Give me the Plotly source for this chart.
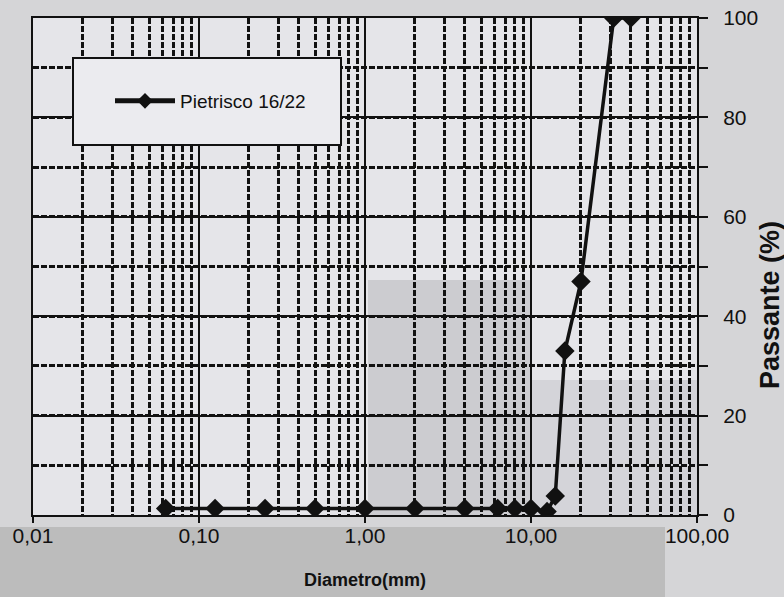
import plotly.graph_objects as go

# Grading curve: sieve opening (mm) vs cumulative passing (%)
diametro_mm = [0.063, 0.125, 0.25, 0.5, 1, 2, 4, 6.3, 8, 10, 12.5, 14, 16, 20, 31.5, 40]
passante_pct = [1.3, 1.3, 1.3, 1.3, 1.3, 1.3, 1.3, 1.3, 1.3, 1.3, 0.7, 3.8, 33, 47, 100, 100]
serie_nome = "Pietrisco 16/22"

x_tick_vals = [0.01, 0.1, 1, 10, 100]
x_tick_text = ["0,01", "0,10", "1,00", "10,00", "100,00"]
x_minor_vals = [m * d for d in (0.01, 0.1, 1, 10) for m in range(2, 10)]
y_tick_vals = [0, 20, 40, 60, 80, 100]

FONT = "Liberation Sans, Arial, sans-serif"
INK = "#111111"

# plot-area geometry in pixels
L, R, T, B = 33, 697, 18, 515
W, H = R - L, B - T


def px_x(px):
    return (px - L) / W


def px_y(py):
    return (B - py) / H


fig = go.Figure()
fig.add_trace(go.Scatter(
    x=diametro_mm, y=passante_pct, name=serie_nome,
    mode="lines+markers",
    line=dict(color=INK, width=3.5),
    marker=dict(symbol="diamond", size=15, color=INK),
))

fig.update_layout(
    width=784, height=597,
    margin=dict(l=L, r=784 - R, t=T, b=597 - B, autoexpand=False),
    paper_bgcolor="#d5d5d7",
    plot_bgcolor="#e5e5e9",
    font=dict(family=FONT, color=INK, size=21),
    showlegend=True,
    legend=dict(
        x=px_x(110), y=px_y(101), xanchor="left", yanchor="middle",
        bgcolor="rgba(0,0,0,0)", borderwidth=0,
        font=dict(size=19, family=FONT, color=INK),
        itemsizing="constant", itemwidth=60,
    ),
    xaxis=dict(
        type="log", range=[-2, 2], automargin=False,
        tickmode="array", tickvals=x_tick_vals, ticktext=x_tick_text,
        ticks="outside", ticklen=6, tickwidth=2, tickcolor=INK,
        ticklabelstandoff=-5,
        showgrid=True, gridcolor=INK, gridwidth=2,
        minor=dict(tickmode="array", tickvals=x_minor_vals, showgrid=True,
                   gridcolor=INK, gridwidth=3, griddash="6px,2px", ticks=""),
        showline=True, linecolor=INK, linewidth=2, mirror=True,
        zeroline=False,
    ),
    yaxis=dict(
        side="right", range=[0, 100], automargin=False,
        tickmode="array", tickvals=y_tick_vals,
        ticks="outside", ticklen=9, tickwidth=2, tickcolor=INK,
        ticklabelstandoff=11,
        showgrid=True, gridcolor=INK, gridwidth=2,
        minor=dict(dtick=10, tick0=0, showgrid=True, gridcolor=INK,
                   gridwidth=3, griddash="6px,2px",
                   ticks="outside", ticklen=9, tickwidth=2, tickcolor=INK),
        showline=True, linecolor=INK, linewidth=2, mirror=True,
        zeroline=False,
    ),
    shapes=[
        # darker band beneath the plot area
        dict(type="rect", xref="paper", yref="paper", x0=px_x(0), x1=px_x(665),
             y0=px_y(597), y1=px_y(527), fillcolor="#bcbcbc", line_width=0,
             layer="below"),
        # greyer tone across the lower-middle of the plotting area
        dict(type="rect", xref="paper", yref="paper", x0=px_x(368), x1=px_x(530),
             y0=0, y1=px_y(280), fillcolor="rgba(140,140,145,0.28)", line_width=0,
             layer="below"),
        dict(type="rect", xref="paper", yref="paper", x0=px_x(530), x1=1,
             y0=0, y1=px_y(380), fillcolor="rgba(140,140,145,0.18)", line_width=0,
             layer="below"),
        # legend frame
        dict(type="rect", xref="paper", yref="paper",
             x0=px_x(73), x1=px_x(341), y0=px_y(145), y1=px_y(58),
             fillcolor="#ebebef", line=dict(color=INK, width=2), layer="above"),
    ],
    annotations=[
        dict(text="<b>Diametro(mm)</b>", xref="paper", yref="paper",
             x=px_x(365), y=px_y(580), xanchor="center", yanchor="middle",
             showarrow=False, font=dict(size=18, family=FONT, color=INK)),
        dict(text="<b>Passante (%)</b>", xref="paper", yref="paper",
             x=px_x(770), y=px_y(305), textangle=-90,
             xanchor="center", yanchor="middle",
             showarrow=False, font=dict(size=27, family=FONT, color=INK)),
    ],
)

fig.write_html("out.html")
